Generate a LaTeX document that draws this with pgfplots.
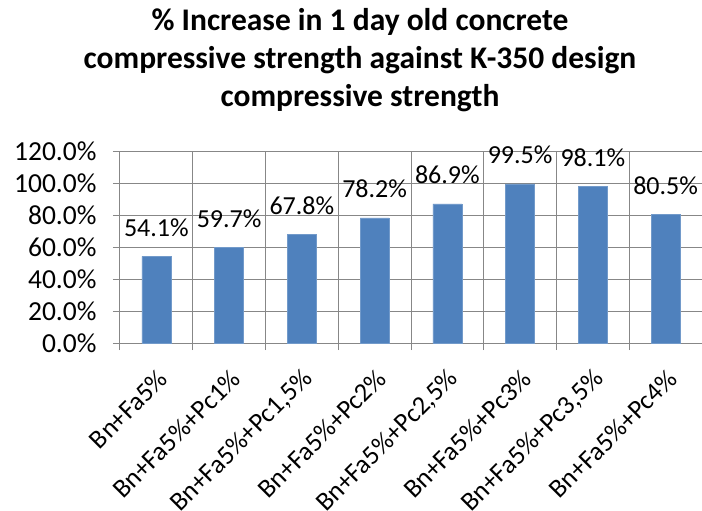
\documentclass[border=0pt]{standalone}
\usepackage{fontspec}
\setmainfont{Carlito}
\usepackage{pgfplots}
\pgfplotsset{compat=1.18}
\definecolor{barblue}{HTML}{4F81BD}
\definecolor{gridgray}{HTML}{878787}
\begin{document}
\begin{tikzpicture}
\begin{axis}[
  scale only axis, width=582bp, height=192bp,
  xmin=-0.5, xmax=7.5, ymin=0, ymax=120,
  ytick={0,20,...,120},
  xtick={0,...,7},
  xticklabels={Bn+Fa5\%, Bn+Fa5\%+Pc1\%, {Bn+Fa5\%+Pc1,5\%}, Bn+Fa5\%+Pc2\%, {Bn+Fa5\%+Pc2,5\%}, Bn+Fa5\%+Pc3\%, {Bn+Fa5\%+Pc3,5\%}, Bn+Fa5\%+Pc4\%},
  minor xtick={-0.5,0.5,...,7.5},
  xminorgrids, ymajorgrids,
  grid style={draw=gridgray, line width=1bp},
  minor grid style={draw=gridgray, line width=1bp},
  axis line style={draw=gridgray, line width=1bp},
  axis x line*=bottom, axis y line*=left,
  major x tick style={draw=none},
  tick style={draw=gridgray, line width=1bp},
  tick align=outside, major tick length=7bp, minor tick length=7bp,
  /pgf/number format/assume math mode=true,
  yticklabel={\pgfmathprintnumber[fixed,fixed zerofill,precision=1]{\tick}\%},
  ticklabel style={text=black},
  xticklabel style={xshift=9bp, yshift=-22bp, rotate=45, anchor=east, font=\fontsize{26.5bp}{30bp}\selectfont},
  yticklabel style={xshift=-13bp, font=\fontsize{27.5bp}{30bp}\selectfont},
  ybar, bar width=0.4,
  nodes near coords={\pgfmathprintnumber[fixed,fixed zerofill,precision=1]{\pgfplotspointmeta}\%},
  nodes near coords style={anchor=base, yshift=20bp, font=\fontsize{26bp}{30bp}\selectfont, text=black},
  clip=false,
]
\addplot[fill=barblue, draw=barblue!80!white] coordinates {
(0,54.1) (1,59.7) (2,67.8) (3,78.2) (4,86.9) (5,99.5) (6,98.1) (7,80.5)};
\end{axis}
\node[align=center, font=\bfseries\fontsize{31.5bp}{38bp}\selectfont] at (240bp,283bp)
  {\% Increase in 1 day old concrete\\compressive strength against K-350 design\\compressive strength};
\pgfresetboundingbox
\path[use as bounding box] (-120bp,-168bp) rectangle (582bp,343bp);
\end{tikzpicture}
\end{document}
